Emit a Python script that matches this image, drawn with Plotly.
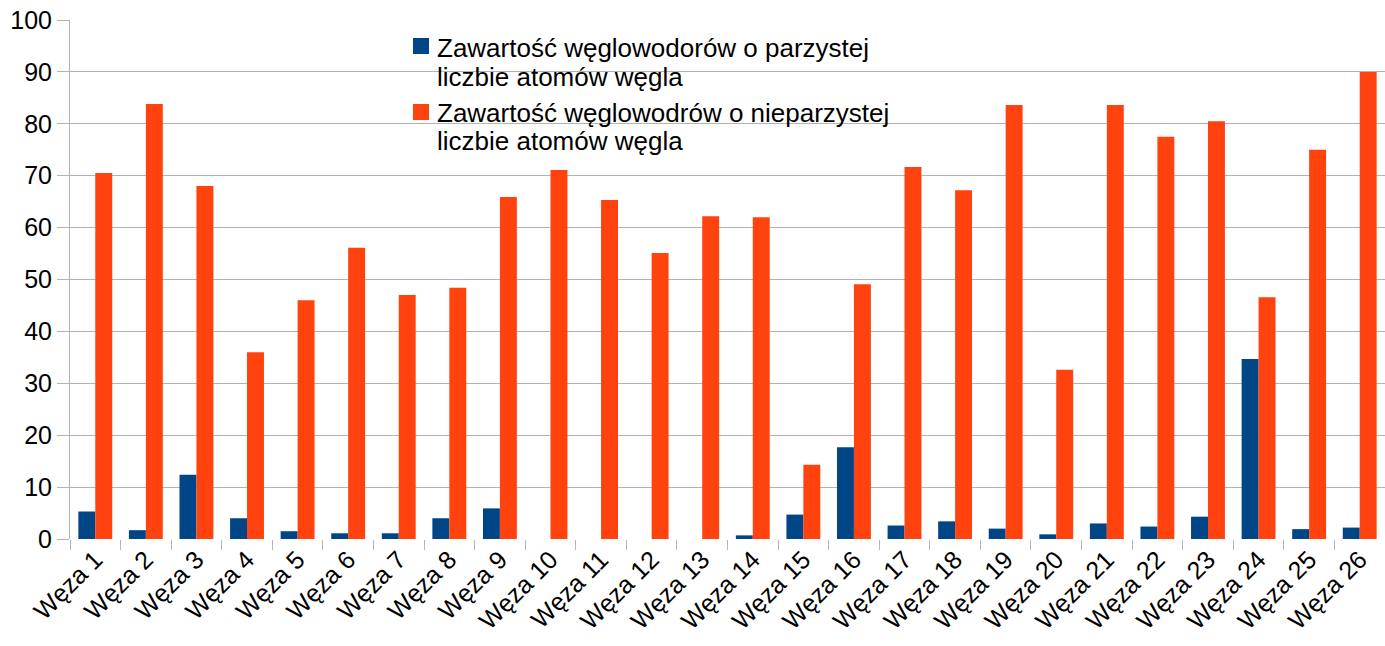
import plotly.graph_objects as go

categories = [f"Węza {i}" for i in range(1, 27)]
even_vals = [5.3, 1.7, 12.4, 4.0, 1.5, 1.1, 1.1, 4.0, 5.9, 0, 0, 0, 0, 0.7, 4.7, 17.7,
             2.6, 3.4, 2.0, 0.9, 3.0, 2.4, 4.3, 34.7, 1.9, 2.2]
odd_vals = [70.5, 83.8, 68.0, 36.0, 46.0, 56.1, 47.0, 48.4, 65.9, 71.1, 65.3, 55.1, 62.2,
            62.0, 14.3, 49.1, 71.7, 67.2, 83.6, 32.6, 83.6, 77.5, 80.5, 46.6, 75.0, 90.0]
series_names = ["Zawartość węglowodorów o parzystej<br>liczbie atomów węgla",
                "Zawartość węglowodrów o nieparzystej<br>liczbie atomów węgla"]
colors = ["#004586", "#ff420e"]
y_ticks = list(range(0, 101, 10))

W, H = 1385, 646
ML, MR, MT, MB = 70, 0, 20, 107
PX0, PY0 = ML, MT
PW, PH = W - ML - MR, H - MT - MB


def px(x):
    return (x - PX0) / PW


def py(y):
    return (PY0 + PH - y) / PH


fig = go.Figure()
for vals, col, name in zip([even_vals, odd_vals], colors, series_names):
    fig.add_trace(go.Bar(x=categories, y=vals, marker_color=col, marker_line_width=0,
                         name=name.replace("<br>", " "), showlegend=False))

# legend drawn manually (LibreOffice-like tighter line spacing)
legend_rows = [(38, 48, 77), (104, 113, 141)]
for (sq_top, l1, l2), name, col in zip(legend_rows, series_names, colors):
    fig.add_shape(type="rect", xref="paper", yref="paper",
                  x0=px(413), x1=px(429), y0=py(sq_top + 16), y1=py(sq_top),
                  fillcolor=col, line_width=0)
    for line, yc in zip(name.split("<br>"), (l1, l2)):
        fig.add_annotation(text=line, xref="paper", yref="paper", x=px(435), y=py(yc),
                           xanchor="left", yanchor="middle", showarrow=False,
                           font=dict(size=26, color="black"))

fig.update_layout(
    width=W, height=H,
    margin=dict(l=ML, r=MR, t=MT, b=MB),
    barmode="group", bargap=0.33, bargroupgap=0,
    plot_bgcolor="white", paper_bgcolor="white",
    font=dict(family="Liberation Sans", size=25, color="black"),
    showlegend=False,
)
fig.update_xaxes(tickangle=-45, ticks="outside", tickson="boundaries", ticklen=10,
                 tickcolor="#b3b3b3", showline=False, showgrid=False, automargin=False,
                 tickfont=dict(size=25), ticklabeloverflow="allow")
fig.update_yaxes(range=[0, 100], tickvals=y_ticks, showgrid=True, gridcolor="#b3b3b3",
                 showline=True, linecolor="#b3b3b3", ticks="outside", ticklen=12,
                 tickcolor="#b3b3b3", zeroline=False, automargin=False,
                 tickfont=dict(size=25), ticklabeloverflow="allow")

fig.write_html("out.html", config={"displayModeBar": False},
               post_script="document.body.style.margin='0';")
